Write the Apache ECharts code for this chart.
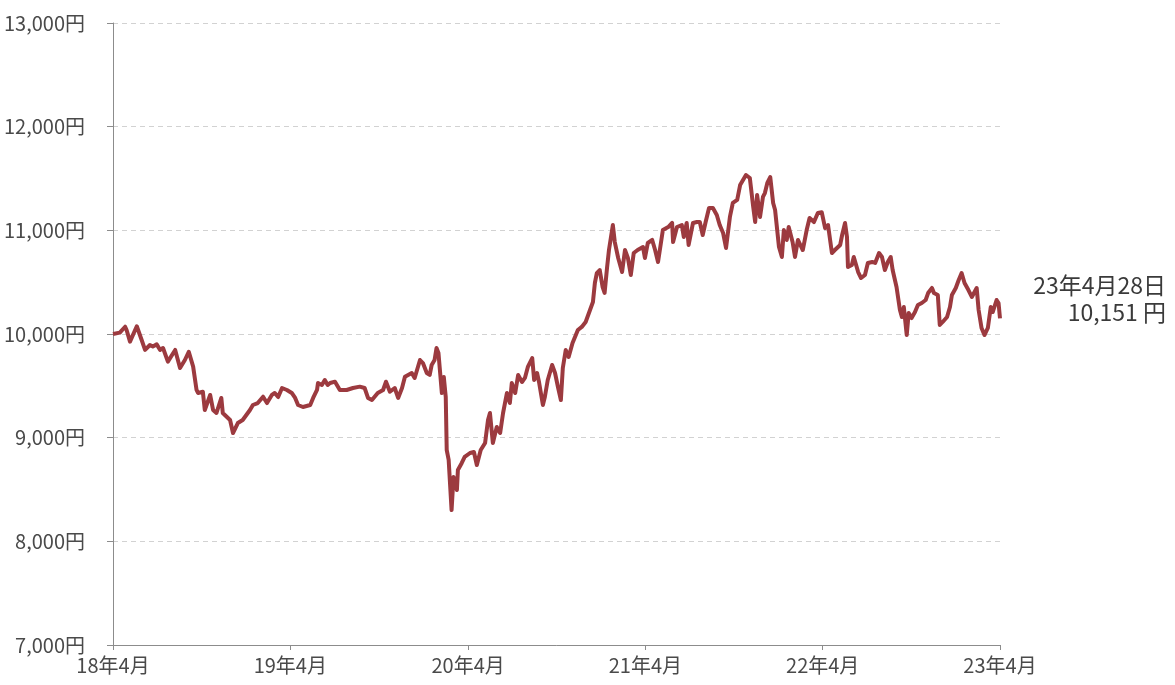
<!DOCTYPE html>
<html>
<head>
<meta charset="utf-8">
<script src="https://cdn.jsdelivr.net/npm/echarts@6/dist/echarts.min.js"></script>
<style>
  html, body { margin: 0; padding: 0; background: #ffffff; }
  #chart { width: 1175px; height: 685px; }
</style>
</head>
<body>
<div id="chart"></div>
<script>
// ---- data ----
const dates = [
  '2018-04-28','2018-05-12','2018-05-23','2018-05-26','2018-06-02','2018-06-16','2018-06-26','2018-07-03','2018-07-13','2018-07-19',
  '2018-07-27','2018-08-03','2018-08-09','2018-08-19','2018-09-03','2018-09-13','2018-09-23','2018-10-01','2018-10-10','2018-10-17',
  '2018-10-20','2018-10-30','2018-11-03','2018-11-14','2018-11-20','2018-11-27','2018-12-07','2018-12-10','2018-12-18','2018-12-25',
  '2018-12-31','2019-01-10','2019-01-20','2019-02-04','2019-02-10','2019-02-20','2019-03-03','2019-03-11','2019-03-21','2019-03-27',
  '2019-04-03','2019-04-11','2019-04-21','2019-05-01','2019-05-08','2019-05-14','2019-05-24','2019-06-08','2019-06-14','2019-06-22',
  '2019-06-24','2019-07-02','2019-07-08','2019-07-14','2019-07-19','2019-07-29','2019-08-08','2019-08-22','2019-09-04','2019-09-18',
  '2019-09-28','2019-10-05','2019-10-13','2019-10-25','2019-11-05','2019-11-11','2019-11-19','2019-11-29','2019-12-06','2019-12-14',
  '2019-12-20','2020-01-03','2020-01-09','2020-01-20','2020-01-26','2020-02-03','2020-02-09','2020-02-13','2020-02-19','2020-02-23',
  '2020-02-27','2020-03-05','2020-03-09','2020-03-13','2020-03-15','2020-03-19','2020-03-25','2020-03-29','2020-04-05','2020-04-07',
  '2020-04-15','2020-04-21','2020-05-02','2020-05-10','2020-05-16','2020-05-24','2020-06-02','2020-06-08','2020-06-12','2020-06-16',
  '2020-06-18','2020-06-26','2020-07-03','2020-07-09','2020-07-17','2020-07-23','2020-07-27','2020-08-03','2020-08-09','2020-08-17',
  '2020-08-23','2020-08-29','2020-09-07','2020-09-11','2020-09-17','2020-09-21','2020-09-29','2020-10-03','2020-10-09','2020-10-18',
  '2020-10-24','2020-10-30','2020-11-05','2020-11-09','2020-11-15','2020-11-21','2020-11-29','2020-12-10','2020-12-18','2020-12-26',
  '2021-01-04','2021-01-10','2021-01-14','2021-01-18','2021-01-24','2021-01-30','2021-02-03','2021-02-08','2021-02-12','2021-02-20',
  '2021-02-24','2021-03-03','2021-03-11','2021-03-17','2021-03-23','2021-03-29','2021-04-04','2021-04-12','2021-04-23','2021-04-27',
  '2021-05-03','2021-05-12','2021-05-18','2021-05-24','2021-06-03','2021-06-14','2021-06-22','2021-06-24','2021-07-02','2021-07-12',
  '2021-07-16','2021-07-22','2021-07-26','2021-08-04','2021-08-12','2021-08-18','2021-08-24','2021-08-30','2021-09-06','2021-09-14',
  '2021-09-22','2021-09-28','2021-10-05','2021-10-11','2021-10-19','2021-10-25','2021-11-03','2021-11-09','2021-11-15','2021-11-21',
  '2021-11-29','2021-12-06','2021-12-10','2021-12-14','2021-12-20','2021-12-26','2021-12-30','2022-01-04','2022-01-10','2022-01-16',
  '2022-01-20','2022-01-28','2022-02-03','2022-02-07','2022-02-13','2022-02-17','2022-02-25','2022-03-02','2022-03-08','2022-03-18',
  '2022-03-26','2022-04-01','2022-04-10','2022-04-18','2022-04-26','2022-05-03','2022-05-09','2022-05-17','2022-05-23','2022-06-03',
  '2022-06-07','2022-06-13','2022-06-17','2022-06-19','2022-06-27','2022-07-01','2022-07-10','2022-07-16','2022-07-24','2022-07-30',
  '2022-08-08','2022-08-14','2022-08-22','2022-08-28','2022-09-03','2022-09-09','2022-09-15','2022-09-19','2022-09-27','2022-10-04',
  '2022-10-08','2022-10-12','2022-10-18','2022-10-22','2022-10-28','2022-11-04','2022-11-10','2022-11-18','2022-11-26','2022-12-01',
  '2022-12-09','2022-12-13','2022-12-21','2022-12-25','2022-12-31','2023-01-09','2023-01-15','2023-01-19','2023-01-27','2023-02-02',
  '2023-02-08','2023-02-14','2023-02-22','2023-03-01','2023-03-11','2023-03-15','2023-03-21','2023-03-27','2023-04-03','2023-04-09',
  '2023-04-13','2023-04-21','2023-04-25','2023-04-28'
];
const values = [
  10000,10013,10070,10039,9926,10075,9942,9846,9894,9880,
  9900,9846,9865,9733,9846,9672,9749,9829,9685,9460,
  9431,9443,9267,9412,9267,9238,9383,9238,9202,9170,
  9045,9141,9170,9267,9315,9334,9395,9334,9412,9431,
  9392,9479,9460,9431,9383,9315,9296,9315,9383,9460,
  9527,9508,9556,9508,9527,9540,9460,9460,9479,9492,
  9479,9383,9363,9431,9460,9540,9443,9479,9383,9479,
  9588,9624,9576,9749,9720,9624,9605,9701,9749,9865,
  9817,9431,9585,9392,8881,8785,8302,8621,8495,8688,
  8756,8814,8852,8862,8736,8881,8949,9170,9238,9045,
  8949,9103,9045,9238,9431,9334,9527,9431,9604,9537,
  9576,9682,9768,9556,9624,9537,9315,9392,9556,9701,
  9624,9489,9363,9672,9846,9778,9913,10039,10068,10116,
  10232,10309,10492,10588,10617,10453,10396,10637,10810,11051,
  10887,10733,10598,10810,10733,10569,10781,10810,10839,10733,
  10878,10907,10810,10695,11003,11032,11071,10887,11032,11051,
  10936,11071,10859,11071,11080,11080,10955,11080,11215,11215,
  11148,11051,10974,10830,11129,11264,11293,11437,11486,11534,
  11505,11225,11080,11341,11129,11322,11360,11457,11514,11264,
  11196,10839,10743,11003,10907,11032,10887,10743,10907,10810,
  11003,11119,11080,11167,11175,11022,11051,10781,10810,10859,
  10955,11071,10936,10646,10666,10743,10598,10540,10569,10685,
  10695,10685,10781,10743,10617,10695,10743,10617,10453,10232,
  10164,10260,9990,10203,10154,10212,10280,10299,10328,10395,
  10444,10395,10376,10087,10116,10164,10260,10376,10444,10521,
  10588,10492,10424,10357,10444,10232,10058,9990,10058,10260,
  10212,10328,10299,10151
];
const xTicks = ['2018-04-28','2019-04-28','2020-04-28','2021-04-28','2022-04-28','2023-04-28'];
const yTicks = [7000, 8000, 9000, 10000, 11000, 12000, 13000];
const lastDateLabel = '23年4月28日';

// ---- chart ----
function ts(s) { return Date.parse(s + 'T00:00:00Z'); }
const xTickTs = xTicks.map(ts);
const chart = echarts.init(document.getElementById('chart'), null, { renderer: 'canvas' });
const fontFamily = '"Noto Sans CJK JP", "Noto Sans", sans-serif';
const lastValue = values[values.length - 1];
const textColor = '#4a4a4a';

function xLabel(v) {
  const d = new Date(v);
  return (d.getUTCFullYear() % 100) + '年' + (d.getUTCMonth() + 1) + '月';
}

chart.setOption({
  animation: false,
  backgroundColor: '#ffffff',
  grid: { left: 113, right: 175, top: 23, bottom: 40, containLabel: false },
  xAxis: {
    type: 'value',
    min: xTickTs[0],
    max: xTickTs[xTickTs.length - 1],
    axisLine: { show: true, lineStyle: { color: '#8c8c8c', width: 1 } },
    axisTick: { show: true, length: 5, customValues: xTickTs, lineStyle: { color: '#8c8c8c' } },
    axisLabel: {
      customValues: xTickTs,
      formatter: xLabel,
      color: textColor,
      fontSize: 20,
      fontFamily: fontFamily,
      margin: 10,
      showMinLabel: true,
      showMaxLabel: true
    },
    splitLine: { show: false }
  },
  yAxis: {
    type: 'value',
    min: yTicks[0],
    max: yTicks[yTicks.length - 1],
    interval: 1000,
    axisLine: { show: true, lineStyle: { color: '#8c8c8c', width: 1 } },
    axisTick: { show: true, length: 6, inside: false, lineStyle: { color: '#8c8c8c' } },
    axisLabel: {
      formatter: v => v.toLocaleString('en-US') + '円',
      color: textColor,
      fontSize: 20,
      fontFamily: fontFamily,
      margin: 28
    },
    splitLine: { show: true, lineStyle: { color: '#d2d2d2', type: [5, 4], width: 1 } }
  },
  graphic: [{
    type: 'text',
    right: 9,
    top: 274,
    style: {
      text: lastDateLabel,
      fill: '#3a3a3a',
      font: '23px ' + fontFamily,
      align: 'right'
    }
  }, {
    type: 'text',
    right: 9,
    top: 301,
    style: {
      text: lastValue.toLocaleString('en-US') + ' 円',
      fill: '#3a3a3a',
      font: '23px ' + fontFamily,
      align: 'right'
    }
  }],
  series: [{
    type: 'line',
    data: dates.map((d, i) => [ts(d), values[i]]),
    showSymbol: false,
    smooth: false,
    lineStyle: { color: '#9c3a3f', width: 4, join: 'round' },
    itemStyle: { color: '#9c3a3f' }
  }]
});
</script>
</body>
</html>
